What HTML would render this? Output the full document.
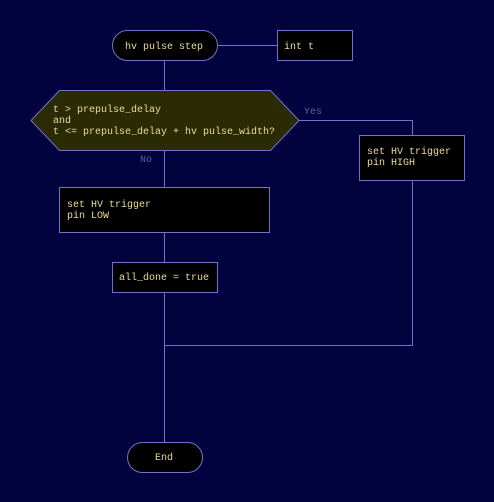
<!DOCTYPE html>
<html><head><meta charset="utf-8"><style>
html,body{margin:0;padding:0;background:#02023e;}
svg{display:block}
text{font-family:"Liberation Mono",monospace;font-size:10px;fill:#eadc96;}
</style></head><body>
<svg width="494" height="502" viewBox="0 0 494 502" xmlns="http://www.w3.org/2000/svg">
<rect width="494" height="502" fill="#02023e"/>
<g stroke="#7272cc" stroke-width="1" fill="none">
<line x1="164.5" y1="60" x2="164.5" y2="442"/>
<line x1="218" y1="45.5" x2="277" y2="45.5"/>
<polyline points="299,120.5 412.5,120.5 412.5,345.5 164.5,345.5"/>
</g>
<g stroke="#7272cc" stroke-width="1">
<rect x="112.5" y="30.5" width="105" height="30" rx="15" fill="#000"/>
<rect x="277.5" y="30.5" width="75" height="30" fill="#000"/>
<polygon points="31,120.5 59.5,90.5 270.5,90.5 299,120.5 270.5,150.5 59.5,150.5" fill="#2a2a05"/>
<rect x="359.5" y="135.5" width="105" height="45" fill="#000"/>
<rect x="59.5" y="187.5" width="210" height="45" fill="#000"/>
<rect x="112.5" y="262.5" width="105" height="30" fill="#000"/>
<rect x="127.5" y="442.5" width="75" height="30" rx="15" fill="#000"/>
</g>
<text x="125" y="49">hv pulse step</text>
<text x="284" y="49">int t</text>
<text x="53" y="112">t &gt; prepulse_delay</text>
<text x="53" y="123">and</text>
<text x="53" y="134">t &lt;= prepulse_delay + hv pulse_width?</text>
<text x="304" y="114" style="fill:#5c5cb0">Yes</text>
<text x="140" y="162" style="fill:#5c5cb0">No</text>
<text x="367" y="154">set HV trigger</text>
<text x="367" y="165">pin HIGH</text>
<text x="67" y="207">set HV trigger</text>
<text x="67" y="218">pin LOW</text>
<text x="119" y="280">all_done = true</text>
<text x="155" y="460">End</text>
</svg>
</body></html>
